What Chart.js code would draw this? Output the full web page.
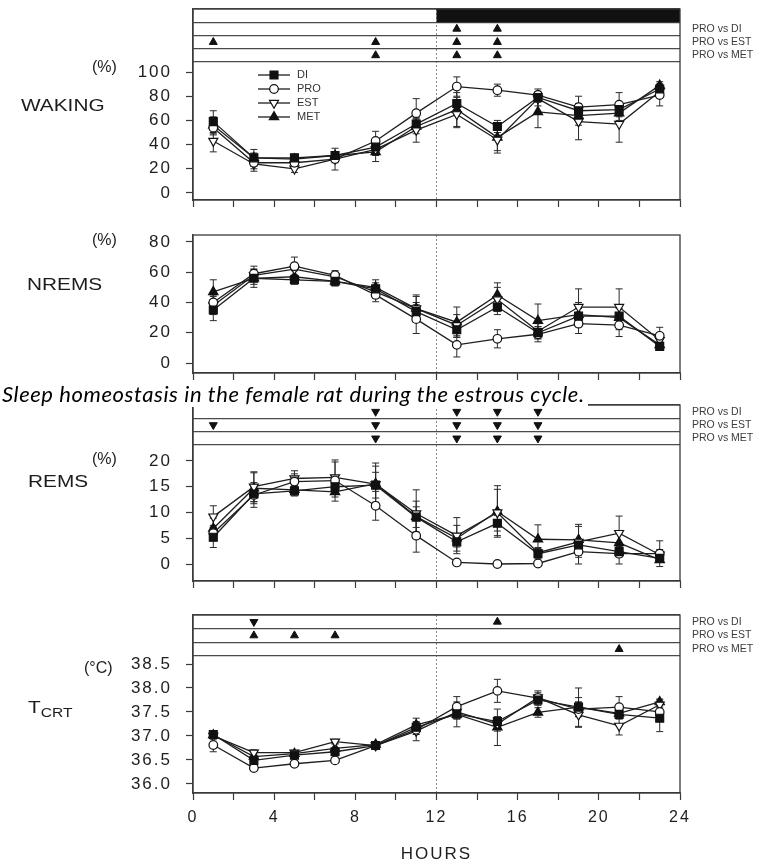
<!DOCTYPE html>
<html>
<head>
<meta charset="utf-8">
<script src="https://cdn.jsdelivr.net/npm/chart.js@4.4.1/dist/chart.umd.min.js"></script>
<style>
  html, body { margin: 0; padding: 0; background: #fff; }
  body { width: 770px; height: 865px; position: relative; overflow: hidden;
         font-family: "Liberation Sans", Arial, sans-serif; color: #1c1c1c; }
  canvas { position: absolute; left: 0; }
  .lbl { position: absolute; white-space: nowrap; line-height: 16px; font-size: 16px;
         transform-origin: 0 50%; }
  .name { transform: scaleX(1.3); }
  .caption { position: absolute; left: 0; top: 381px; z-index: 5; white-space: nowrap;
             padding: 0 3px 0 2px; background: #fff;
             font-family: Lato, "Open Sans", sans-serif; font-style: italic; font-size: 22px;
             letter-spacing: 0.6px; line-height: 26px; color: #000; }
  sub { font-size: 12px; vertical-align: -4px; }
</style>
</head>
<body>
<canvas id="cWake" width="770" height="215" style="top:0px"></canvas>
<canvas id="cNrem" width="770" height="165" style="top:220px"></canvas>
<canvas id="cRem" width="770" height="200" style="top:395px"></canvas>
<canvas id="cTemp" width="770" height="265" style="top:600px"></canvas>

<div class="lbl" style="left:92px; top:59px">(%)</div>
<div class="lbl name" style="left:21px; top:98px">WAKING</div>
<div class="lbl" style="left:92px; top:232px">(%)</div>
<div class="lbl name" style="left:27px; top:277px">NREMS</div>
<div class="lbl" style="left:92px; top:451px">(%)</div>
<div class="lbl name" style="left:28px; top:474px">REMS</div>
<div class="lbl" style="left:84px; top:660px">(°C)</div>
<div class="lbl name" style="left:28px; top:700px">T<sub>CRT</sub></div>
<div class="caption">Sleep homeostasis in the female rat during the estrous cycle.</div>

<script>
// ---- time base (hours after lights on) ----
const hours = [1, 3, 5, 7, 9, 11, 13, 15, 17, 19, 21, 23];
const xTickHours = [0, 2, 4, 6, 8, 10, 12, 14, 16, 18, 20, 22, 24];
const darkPhase = [12, 24];
const groupNames = ['DI', 'PRO', 'EST', 'MET'];
const compLabels = ['PRO vs DI', 'PRO vs EST', 'PRO vs MET'];

// ---- WAKING (%) ----
const wakeDI  = [59, 29, 29, 31, 38, 57, 74, 55, 79, 68, 69, 86];
const wakePRO = [54, 25, 25, 28, 43, 66, 88, 85, 81, 71, 73, 81];
const wakeEST = [43, 24, 20, 28, 36, 52, 65, 44, 78, 59, 57, 84];
const wakeMET = [56, 29, 28, 31, 34, 55, 69, 46, 67, 64, 66, 89];
const wakeDIerr  = [9, 4, 3, 3, 4, 5, 5, 5, 4, 6, 5, 4];
const wakePROerr = [6, 5, 4, 3, 8, 12, 8, 5, 5, 9, 10, 9];
const wakeESTerr = [9, 6, 3, 9, 5, 10, 11, 11, 6, 15, 15, 5];
const wakeMETerr = [7, 7, 3, 3, 8, 6, 14, 11, 13, 8, 6, 3];
const wakeTicks = [0, 20, 40, 60, 80, 100];
const wakeSigDI  = [13, 15];
const wakeSigEST = [1, 9, 13, 15];
const wakeSigMET = [9, 13, 15];

// ---- NREMS (%) ----
const nremDI  = [35, 56, 55, 54, 49, 34, 22, 37, 20, 31, 31, 11];
const nremPRO = [40, 59, 64, 58, 45, 29, 12, 16, 19, 26, 25, 18];
const nremEST = [38, 58, 62, 57, 47, 36, 25, 42, 21, 37, 37, 15];
const nremMET = [47, 56, 57, 54, 50, 36, 27, 45, 28, 32, 30, 12];
const nremDIerr  = [7, 4, 3, 3, 4, 6, 5, 5, 4, 5, 5, 2];
const nremPROerr = [5, 5, 6, 3, 4.5, 9.5, 8, 6, 5, 6.5, 7.5, 5.6];
const nremESTerr = [6, 4, 4, 3, 4, 8, 7, 8, 5, 12, 12, 3];
const nremMETerr = [8, 6, 4, 3, 5, 9, 10, 8, 11, 8, 8, 2];
const nremTicks = [0, 20, 40, 60, 80];

// ---- REMS (%) ----
const remDI  = [5.2, 13.6, 14.2, 15.0, 15.3, 9.1, 4.3, 7.9, 2.0, 3.7, 2.4, 1.1];
const remPRO = [6.0, 13.4, 16.0, 16.2, 11.3, 5.5, 0.3, 0.0, 0.1, 2.4, 2.0, 2.0];
const remEST = [9.2, 15.0, 16.6, 16.8, 15.5, 9.8, 5.5, 10.0, 2.2, 4.3, 6.0, 1.8];
const remMET = [6.9, 14.7, 14.4, 14.0, 15.6, 9.2, 5.0, 10.2, 4.8, 4.7, 4.1, 0.8];
const remDIerr  = [2, 1.5, 1, 1.5, 2.5, 2, 1, 1.5, 1, 1, 1, 0.5];
const remPROerr = [1.5, 2.4, 1.5, 4, 2.8, 3.2, 0.3, 0.1, 0.2, 2.4, 2, 2.5];
const remESTerr = [2.1, 2.9, 1.5, 3, 3.5, 4.6, 3.5, 4.5, 1, 3, 3.3, 1];
const remMETerr = [2, 3, 1, 1, 4, 3, 2.5, 5, 2.8, 3, 2, 0.5];
const remTicks = [0, 5, 10, 15, 20];
const remSigDI  = [9, 13, 15, 17];
const remSigEST = [1, 9, 13, 15, 17];
const remSigMET = [9, 13, 15, 17];

// ---- core temperature (°C) ----
const tDI  = [37.03, 36.49, 36.60, 36.67, 36.80, 37.18, 37.46, 37.30, 37.75, 37.60, 37.45, 37.37];
const tPRO = [36.81, 36.33, 36.42, 36.49, 36.80, 37.13, 37.61, 37.94, 37.79, 37.56, 37.60, 37.50];
const tEST = [37.00, 36.65, 36.65, 36.88, 36.80, 37.10, 37.50, 37.25, 37.80, 37.44, 37.21, 37.65];
const tMET = [37.02, 36.57, 36.63, 36.74, 36.82, 37.23, 37.45, 37.18, 37.49, 37.60, 37.47, 37.71];
const tDIerr  = [0.05, 0.06, 0.05, 0.05, 0.05, 0.1, 0.1, 0.1, 0.1, 0.4, 0.1, 0.28];
const tPROerr = [0.14, 0.05, 0.05, 0.05, 0.06, 0.1, 0.21, 0.24, 0.15, 0.15, 0.22, 0.1];
const tESTerr = [0.08, 0.06, 0.05, 0.05, 0.05, 0.2, 0.15, 0.15, 0.1, 0.26, 0.19, 0.1];
const tMETerr = [0.06, 0.05, 0.05, 0.1, 0.06, 0.14, 0.26, 0.38, 0.1, 0.2, 0.1, 0.06];
const tTicks = [36.0, 36.5, 37.0, 37.5, 38.0, 38.5];
const tSigDIup   = [15];
const tSigDIdown = [3];
const tSigEST    = [3, 5, 7];
const tSigMET    = [21];

// ---- drawing styles ----
const INK = '#1e1e1e';
const FRAME = '#3a3a3a';
const FONT = '"Liberation Sans", Arial, sans-serif';
const groupStyle = {
  DI:  { pointStyle: 'rect',     radius: 5.6, fill: '#111', rotation: 0 },
  PRO: { pointStyle: 'circle',   radius: 4.3, fill: '#fff', rotation: 0 },
  EST: { pointStyle: 'triangle', radius: 5.2, fill: '#fff', rotation: 180 },
  MET: { pointStyle: 'triangle', radius: 5.4, fill: '#111', rotation: 0 }
};

// wide-set axis lettering
const spacingPlugin = {
  id: 'wideText',
  beforeDraw(chart) { chart.ctx.letterSpacing = '2px'; },
  afterDraw(chart) { chart.ctx.letterSpacing = '0px'; }
};

// vertical SEM bars with caps, drawn under the markers
const errorBarPlugin = {
  id: 'semBars',
  beforeDatasetsDraw(chart) {
    const ctx = chart.ctx;
    const xs = chart.scales.x;
    chart.data.datasets.forEach((ds, i) => {
      if (!ds.sem) return;
      const ys = chart.scales[chart.getDatasetMeta(i).yAxisID];
      ctx.save();
      ctx.strokeStyle = '#2a2a2a';
      ctx.lineWidth = 1;
      ds.data.forEach((p, j) => {
        const e = ds.sem[j];
        if (!e) return;
        const x = xs.getPixelForValue(p.x);
        const lo = ys.getPixelForValue(p.y - e);
        const hi = ys.getPixelForValue(p.y + e);
        ctx.beginPath();
        ctx.moveTo(x, lo); ctx.lineTo(x, hi);
        ctx.moveTo(x - 3.5, lo); ctx.lineTo(x + 3.5, lo);
        ctx.moveTo(x - 3.5, hi); ctx.lineTo(x + 3.5, hi);
        ctx.stroke();
      });
      ctx.restore();
    });
  }
};

// outer frame, light/dark bar, comparison row names and the in-plot key
const framePlugin = {
  id: 'panelFrame',
  beforeDatasetsDraw(chart, args, opts) {
    if (!opts.dark) return;
    const xs = chart.scales.x, sig = chart.scales.sig;
    const ctx = chart.ctx;
    ctx.save();
    ctx.fillStyle = '#111';
    const x0 = xs.getPixelForValue(opts.dark[0]), x1 = xs.getPixelForValue(opts.dark[1]);
    const y0 = sig.getPixelForValue(0), y1 = sig.getPixelForValue(1);
    ctx.fillRect(x0, y0, x1 - x0, y1 - y0);
    ctx.restore();
  },
  afterDraw(chart, args, opts) {
    const a = chart.chartArea, ctx = chart.ctx;
    ctx.save();
    ctx.letterSpacing = '0px';
    ctx.strokeStyle = FRAME;
    ctx.lineWidth = 1.3;
    ctx.strokeRect(a.left, a.top, a.right - a.left, a.bottom - a.top);
    if (opts.rows) {
      const sig = chart.scales.sig;
      ctx.fillStyle = '#3c3c3c';
      ctx.font = '10.5px ' + FONT;
      ctx.textBaseline = 'middle';
      ctx.textAlign = 'left';
      opts.rows.forEach((txt, k) => {
        ctx.fillText(txt, a.right + 12, sig.getPixelForValue(opts.firstRow + k + 0.5));
      });
    }
    if (opts.key) {
      const k = opts.key;
      ctx.font = '11px ' + FONT;
      ctx.textBaseline = 'middle';
      groupNames.forEach((g, i) => {
        const st = groupStyle[g];
        const y = a.top + k.top + i * k.step;
        const x = a.left + k.left;
        ctx.strokeStyle = INK;
        ctx.lineWidth = 1.3;
        ctx.beginPath(); ctx.moveTo(x, y); ctx.lineTo(x + 32, y); ctx.stroke();
        ctx.fillStyle = st.fill;
        ctx.lineWidth = 1.2;
        ctx.strokeStyle = '#111';
        Chart.helpers.drawPoint(ctx, { pointStyle: st.pointStyle, radius: st.radius,
          rotation: st.rotation, borderWidth: 1.2 }, x + 16, y);
        ctx.fillStyle = '#333';
        ctx.fillText(g, x + 39, y);
      });
    }
    ctx.restore();
  }
};

function seriesSets(values, errors) {
  return groupNames.map((g, k) => {
    const st = groupStyle[g];
    return {
      label: g,
      data: hours.map((h, i) => ({ x: h, y: values[k][i] })),
      sem: errors[k],
      yAxisID: 'y',
      borderColor: INK,
      borderWidth: 1.3,
      pointStyle: st.pointStyle,
      pointRadius: st.radius,
      pointRotation: st.rotation,
      pointBackgroundColor: st.fill,
      pointBorderColor: '#111',
      pointBorderWidth: 1.2,
      tension: 0,
      fill: false
    };
  });
}

function sigSet(hrs, row, up) {
  return {
    data: hrs.map(h => ({ x: h, y: row + 0.5 })),
    yAxisID: 'sig',
    showLine: false,
    pointStyle: 'triangle',
    pointRadius: 4.6,
    pointRotation: up ? 0 : 180,
    pointBackgroundColor: '#111',
    pointBorderColor: '#111',
    pointBorderWidth: 1
  };
}

// keep the plot frame exactly where the layout padding puts it
function fixVertical(s) { s.width = 193; s.paddingTop = 0; s.paddingBottom = 0; }

function makePanel(id, o) {
  const datasets = seriesSets(o.values, o.errors).concat(o.sig || []);
  const scales = {
    x: {
      type: 'linear', min: 0, max: 24,
      afterBuildTicks: s => { s.ticks = xTickHours.map(v => ({ value: v })); },
      afterFit: s => { s.height = o.xAxisH; s.paddingLeft = 0; s.paddingRight = 0; },
      grid: {
        drawOnChartArea: true, drawTicks: true, tickLength: 7, tickColor: FRAME, tickWidth: 1.2,
        color: c => (c.tick && c.tick.value === 12) ? '#8a8a8a' : 'rgba(0,0,0,0)', lineWidth: 1
      },
      border: { display: true, color: FRAME, width: 1.3, dash: [2, 2] },
      ticks: {
        autoSkip: false, maxRotation: 0, padding: 8, color: INK,
        font: { family: FONT, size: 16 },
        callback: v => (o.xLabels && v % 4 === 0) ? String(v) : ''
      },
      title: o.xTitle ? { display: true, text: o.xTitle, color: INK,
        font: { family: FONT, size: 17 }, padding: { top: 0, bottom: 0 } } : { display: false }
    }
  };
  // plot scale first so that the comparison rows stack above it
  scales.y = {
    type: 'linear', position: 'left', min: o.yMin, max: o.yMax,
    afterBuildTicks: s => { s.ticks = o.yTicks.map(v => ({ value: v })); },
    afterFit: fixVertical,
    grid: { drawOnChartArea: false, drawTicks: true, tickLength: 7, tickColor: FRAME, tickWidth: 1.2 },
    border: { display: true, color: FRAME, width: 1.3 },
    ticks: {
      autoSkip: false, padding: 14, color: INK, font: { family: FONT, size: 17 },
      callback: v => o.yDecimals ? Number(v).toFixed(o.yDecimals) : String(v)
    }
  };
  if (o.sigRows) {
    scales.y.stack = 'panel';
    scales.y.stackWeight = o.plotH;
    scales.sig = {
      type: 'linear', position: 'left', stack: 'panel', stackWeight: o.sigH,
      min: 0, max: o.sigRows, reverse: true,
      afterBuildTicks: s => { const t = []; for (let r = 0; r <= o.sigRows; r++) t.push({ value: r }); s.ticks = t; },
      afterFit: fixVertical,
      grid: { drawOnChartArea: true, drawTicks: false, color: '#4a4a4a', lineWidth: 1.2 },
      border: { display: true, color: FRAME, width: 1.3 },
      ticks: { display: false }
    };
  }

  new Chart(document.getElementById(id), {
    type: 'line',
    data: { datasets },
    options: {
      responsive: false, animation: false, devicePixelRatio: 1,
      layout: { padding: { left: 0, right: 90, top: o.padTop, bottom: 0 } },
      plugins: {
        legend: { display: false }, tooltip: { enabled: false },
        panelFrame: { rows: o.rowNames, firstRow: o.firstRow || 0, dark: o.dark, key: o.key }
      },
      scales
    },
    plugins: [spacingPlugin, errorBarPlugin, framePlugin]
  });
}

makePanel('cWake', {
  values: [wakeDI, wakePRO, wakeEST, wakeMET],
  errors: [wakeDIerr, wakePROerr, wakeESTerr, wakeMETerr],
  yMin: -5.8, yMax: 108.3, yTicks: wakeTicks,
  padTop: 9, xAxisH: 15,
  sigRows: 4, sigH: 53, plotH: 138, firstRow: 1, rowNames: compLabels, dark: darkPhase,
  sig: [sigSet(wakeSigDI, 1, true), sigSet(wakeSigEST, 2, true), sigSet(wakeSigMET, 3, true)],
  key: { left: 65, top: 66, step: 14 }
});

makePanel('cNrem', {
  values: [nremDI, nremPRO, nremEST, nremMET],
  errors: [nremDIerr, nremPROerr, nremESTerr, nremMETerr],
  yMin: -6.6, yMax: 84.6, yTicks: nremTicks,
  padTop: 15, xAxisH: 12
});

makePanel('cRem', {
  values: [remDI, remPRO, remEST, remMET],
  errors: [remDIerr, remPROerr, remESTerr, remMETerr],
  yMin: -3.3, yMax: 23.1, yTicks: remTicks,
  padTop: 10, xAxisH: 14,
  sigRows: 3, sigH: 40, plotH: 136, rowNames: compLabels,
  sig: [sigSet(remSigDI, 0, false), sigSet(remSigEST, 1, false), sigSet(remSigMET, 2, false)]
});

makePanel('cTemp', {
  values: [tDI, tPRO, tEST, tMET],
  errors: [tDIerr, tPROerr, tESTerr, tMETerr],
  yMin: 35.81, yMax: 38.667, yTicks: tTicks, yDecimals: 1,
  padTop: 15, xAxisH: 72, xLabels: true, xTitle: 'HOURS',
  sigRows: 3, sigH: 41, plotH: 137, rowNames: compLabels,
  sig: [sigSet(tSigDIdown, 0, false), sigSet(tSigDIup, 0, true), sigSet(tSigEST, 1, true), sigSet(tSigMET, 2, true)]
});
</script>
</body>
</html>
